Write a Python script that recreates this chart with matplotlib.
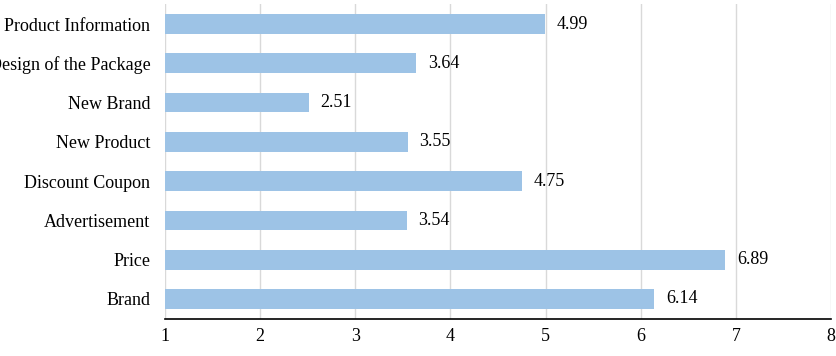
import matplotlib
matplotlib.use('Agg')
import matplotlib.pyplot as plt

categories = ['Brand', 'Price', 'Advertisement', 'Discount Coupon',
              'New Product', 'New Brand', 'Design of the Package',
              'Product Information']
values = [6.14, 6.89, 3.54, 4.75, 3.55, 2.51, 3.64, 4.99]
x_ticks = [1, 2, 3, 4, 5, 6, 7, 8]

plt.rcParams['font.family'] = ['Liberation Serif', 'DejaVu Serif']

fig = plt.figure(figsize=(8.36, 3.56), dpi=100)
ax = fig.add_axes([0.1974, 0.105, 0.7966, 0.8827])

ypos = range(len(categories))
ax.barh(ypos, values, height=0.5, color='#9dc3e6', zorder=2)
for y, v in zip(ypos, values):
    ax.text(v + 0.125, y, f'{v:.2f}', va='center', ha='left', fontsize=13,
            color='#000000', zorder=3)

ax.set_xlim(1, 8)
ax.set_ylim(-0.5, len(categories) - 0.5)
ax.set_xticks(x_ticks)
ax.set_xticklabels([str(t) for t in x_ticks], fontsize=13)
ax.set_yticks(list(ypos))
ax.set_yticklabels(categories, fontsize=13)
ax.tick_params(axis='both', length=0)
ax.tick_params(axis='y', pad=10.5)
ax.tick_params(axis='x', pad=7)
ax.grid(axis='x', color='#d9d9d9', linewidth=1.0, zorder=0)
for side in ['top', 'right', 'left']:
    ax.spines[side].set_visible(False)
ax.spines['bottom'].set_color('#000000')
ax.spines['bottom'].set_linewidth(1.2)
ax.spines['bottom'].set_zorder(4)

fig.savefig('out.png', dpi=100, facecolor='white')
